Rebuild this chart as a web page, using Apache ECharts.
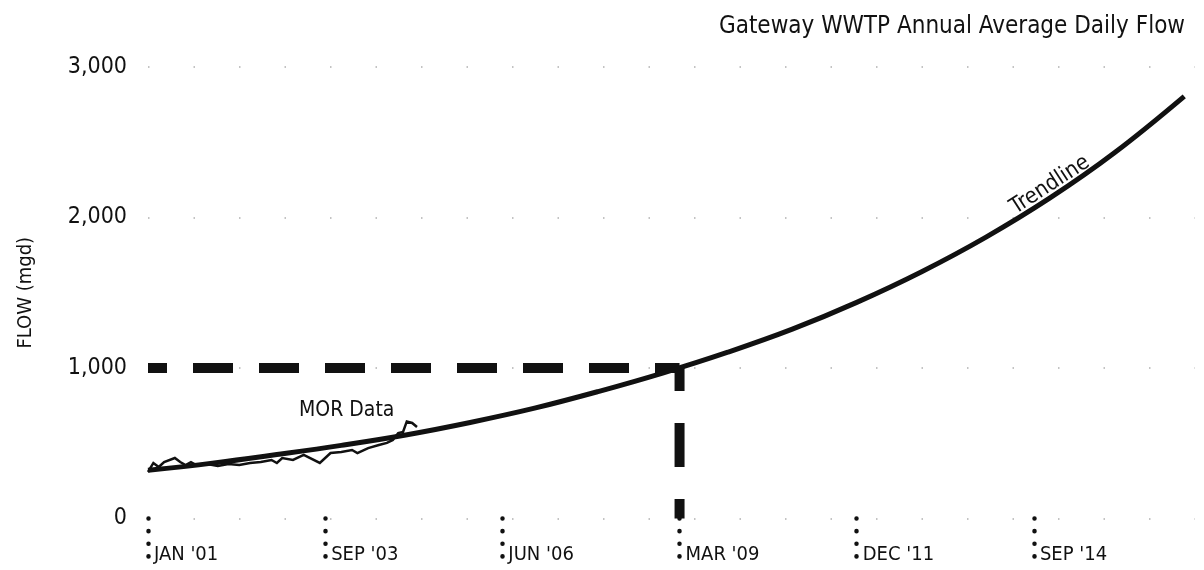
<!DOCTYPE html>
<html>
<head>
<meta charset="utf-8">
<script src="https://cdn.jsdelivr.net/npm/echarts@6/dist/echarts.min.js"></script>
<style>
  html, body { margin: 0; padding: 0; background: #fff; }
  #chart { width: 1204px; height: 570px; }
</style>
</head>
<body>
<div id="chart"></div>
<script>
// ---- data ----
const titleText = 'Gateway WWTP Annual Average Daily Flow';
const yAxisName = 'FLOW (mgd)';
const xTickLabels = ["JAN '01", "SEP '03", "JUN '06", "MAR '09", "DEC '11", "SEP '14"];
const monthsPerTick = 33;              // months between labelled ticks
const yTicks = [0, 1000, 2000, 3000];

// Trendline (months from first tick, flow mgd)
const trendMonths = [0, 12, 24, 36, 48, 60, 72, 84, 96, 108, 120, 132, 144, 156, 168, 180, 193];
const trendValues = [320, 368, 425, 486, 555, 638, 733, 845, 968, 1105, 1258, 1436, 1638, 1868, 2130, 2430, 2805];

// MOR data
const morMonths = [0, 1, 2, 3, 5, 6, 7, 8, 9, 11, 13, 15, 17, 19, 21, 23, 24, 25, 27, 29, 32, 34, 36, 38, 39, 41, 43, 44.5, 45.6, 46.6, 47.5, 48.2, 49.2, 50.1];
const morValues = [309, 369, 342, 375, 402, 375, 355, 375, 355, 362, 349, 362, 355, 369, 375, 389, 369, 402, 389, 422, 369, 435, 442, 455, 435, 468, 488, 502, 522, 568, 575, 645, 635, 608];

// Design point (reference lines)
const designMonth = 99;   // MAR '09
const designFlow = 1000;

// annotation anchors
const morLabelAt = [37, 714];
const trendLabelAt = [168, 2216];

// ---- chart ----
const FONT = "'Liberation Sans Narrow', 'Arial Narrow', 'DejaVu Sans Condensed', 'Liberation Sans', sans-serif";
const INK = '#111';

const tickVals = xTickLabels.map((_, i) => i * monthsPerTick);

const chart = echarts.init(document.getElementById('chart'), null, { renderer: 'canvas' });
chart.setOption({
  animation: false,
  backgroundColor: '#fff',
  title: {
    text: titleText,
    right: 14,
    top: 10,
    textStyle: { fontFamily: FONT, fontSize: 24, fontWeight: 'normal', color: INK }
  },
  grid: { left: 148, right: 9, top: 67, bottom: 51.5, containLabel: false },
  xAxis: {
    type: 'value',
    min: 0,
    max: 195,
    interval: monthsPerTick,
    axisLine: { show: false },
    splitLine: { show: false },
    axisTick: {
      show: true,
      customValues: tickVals,
      length: 44,
      lineStyle: { color: INK, width: 4.5, type: [0.1, 12.5], cap: 'round' }
    },
    axisLabel: {
      customValues: tickVals,
      formatter: v => {
        const i = Math.round(v / monthsPerTick);
        return (Math.abs(v - i * monthsPerTick) < 1e-6 && xTickLabels[i]) ? xTickLabels[i] : '';
      },
      align: 'left',
      margin: 26,
      padding: [0, 0, 0, 6],
      fontFamily: FONT,
      fontSize: 20,
      color: INK
    }
  },
  yAxis: {
    type: 'value',
    min: yTicks[0],
    max: yTicks[yTicks.length - 1],
    interval: 1000,
    name: yAxisName,
    nameLocation: 'middle',
    nameRotate: 90,
    nameGap: 112,
    nameTextStyle: { fontFamily: FONT, fontSize: 20, color: INK },
    axisLine: { show: false },
    axisTick: { show: false },
    axisLabel: {
      margin: 21,
      formatter: v => v.toLocaleString('en-US'),
      fontFamily: FONT,
      fontSize: 23,
      color: INK
    },
    splitLine: {
      show: true,
      lineStyle: { color: '#b0b0b0', width: 1.5, type: [1.5, 44] }
    }
  },
  series: [
    {
      name: 'design-h',
      type: 'line',
      data: [[0, designFlow], [designMonth, designFlow]],
      symbol: 'none',
      silent: true,
      z: 1,
      lineStyle: { color: INK, width: 10, type: [40, 26], dashOffset: 21, cap: 'butt' }
    },
    {
      name: 'design-v',
      type: 'line',
      data: [[designMonth, designFlow], [designMonth, 0]],
      symbol: 'none',
      silent: true,
      z: 1,
      lineStyle: { color: INK, width: 10, type: [44, 32], dashOffset: 21, cap: 'butt' }
    },
    {
      name: 'MOR Data',
      type: 'line',
      data: morMonths.map((m, i) => [m, morValues[i]]),
      symbol: 'none',
      z: 3,
      lineStyle: { color: INK, width: 2.5, join: 'miter' },
      markPoint: {
        symbol: 'circle',
        symbolSize: 0,
        silent: true,
        data: [{ coord: morLabelAt }],
        label: {
          show: true, position: 'inside', formatter: 'MOR Data',
          fontFamily: FONT, fontSize: 21, color: INK
        }
      }
    },
    {
      name: 'Trendline',
      type: 'line',
      data: trendMonths.map((m, i) => [m, trendValues[i]]),
      smooth: 0.4,
      symbol: 'none',
      z: 4,
      lineStyle: { color: INK, width: 5 },
      markPoint: {
        symbol: 'circle',
        symbolSize: 0,
        silent: true,
        data: [{ coord: trendLabelAt }],
        label: {
          show: true, position: 'inside', formatter: 'Trendline', rotate: 33,
          fontFamily: FONT, fontSize: 22, color: INK
        }
      }
    }
  ]
});
</script>
</body>
</html>
